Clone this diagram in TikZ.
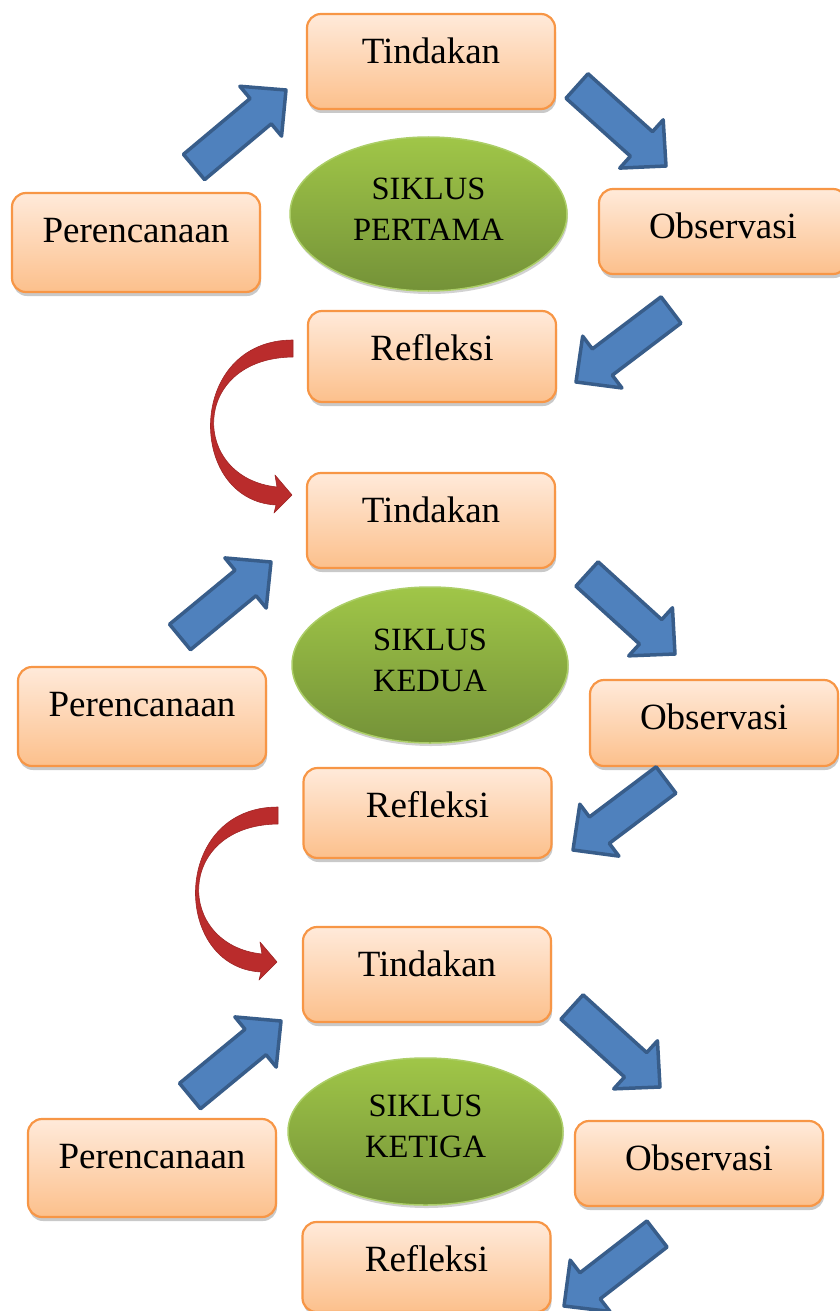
\documentclass[tikz,border=0pt]{standalone}
\usepackage{fontspec}
\setmainfont{Liberation Serif}
\usetikzlibrary{shapes.geometric,shadows,calc}

\definecolor{boxline}{RGB}{247,150,70}
\definecolor{boxtop}{RGB}{255,234,218}
\definecolor{boxbot}{RGB}{252,192,140}
\definecolor{elltop}{RGB}{160,198,72}
\definecolor{ellbot}{RGB}{116,146,56}
\definecolor{ellline}{RGB}{172,206,104}
\definecolor{arrfill}{RGB}{79,129,189}
\definecolor{arrline}{RGB}{56,93,138}
\definecolor{redarr}{RGB}{186,44,44}

\tikzset{
  stagebox/.style={draw=boxline, line width=2.2pt, rounded corners=14pt,
    top color=boxtop, bottom color=boxbot, minimum width=248pt,
    text depth=20pt, inner sep=0pt,
    font=\fontsize{37}{40}\selectfont,
    drop shadow={shadow xshift=1pt, shadow yshift=-4pt, opacity=0.3, fill=black!70}},
  cycleell/.style={ellipse, draw=ellline, line width=1.5pt,
    top color=elltop, bottom color=ellbot, inner sep=0pt, align=center,
    text depth=10pt,
    font=\fontsize{32.5}{41}\selectfont,
    drop shadow={shadow xshift=1pt, shadow yshift=-3pt, opacity=0.25, fill=black!70}},
  blockarrow/.style={fill=arrfill, draw=arrline, line width=3.5pt, line join=round},
  curvedarrow/.style={fill=redarr, draw=redarr!85!black, line width=0.6pt, line join=round},
}

% block arrow from tail coordinate #1 to tip coordinate #2, helper prefix #3
\newcommand{\blockarr}[3]{%
  \coordinate (#3h) at ($(#2)!33pt!(#1)$);
  \coordinate (#3t1) at ($(#1)!16.5pt!90:(#2)$);
  \coordinate (#3t2) at ($(#1)!16.5pt!-90:(#2)$);
  \coordinate (#3s1) at ($(#3h)!16.5pt!90:(#2)$);
  \coordinate (#3s2) at ($(#3h)!16.5pt!-90:(#2)$);
  \coordinate (#3h1) at ($(#3h)!32.5pt!90:(#2)$);
  \coordinate (#3h2) at ($(#3h)!32.5pt!-90:(#2)$);
  \draw[blockarrow] (#3t1) -- (#3s1) -- (#3h1) -- (#2) -- (#3h2) -- (#3s2) -- (#3t2) -- cycle;
}

% curved red arrow (drawn in cycle-1 coordinates, shifted by #1)
\newcommand{\curvedarr}[2]{%
  \begin{scope}[shift={#1}]
    \coordinate (#2s) at (293,348);
    \coordinate (#2e) at (292,495);
    \fill[curvedarrow] (293,340) .. controls (186,340) and (186,500) .. (276,505)
      -- (274,513) -- (#2e) -- (275,475) -- (277,487)
      .. controls (190,478) and (190,358) .. (293,357) -- cycle;
  \end{scope}
}

\begin{document}
\begin{tikzpicture}[x=1pt,y=-1pt]
\useasboundingbox (0,0) rectangle (840,1311);

% ---------- cycle 1 ----------
\node[stagebox, minimum height=95pt, text height=24pt] (t1) at (431,61.5) {Tindakan};
\node[stagebox, minimum height=99pt, text height=20pt] (p1) at (136,242.5) {Perencanaan};
\node[stagebox, minimum height=85pt, text height=33pt] (o1) at (723,231.5) {Observasi};
\node[stagebox, minimum height=91pt, text height=28pt] (r1) at (432,356.5) {Refleksi};
\node[cycleell, minimum width=277pt, minimum height=154pt] (e1) at (428.5,214) {SIKLUS\\PERTAMA};

\coordinate (a1s) at (194,167);  \coordinate (a1e) at (286,90);
\coordinate (a2s) at (577,86);   \coordinate (a2e) at (666,166);
\coordinate (a3s) at (671,310);  \coordinate (a3e) at (576,382);
\blockarr{a1s}{a1e}{x1}
\blockarr{a2s}{a2e}{x2}
\blockarr{a3s}{a3e}{x3}

\curvedarr{(0,0)}{c1}

% ---------- cycle 2 ----------
\node[stagebox, minimum height=95pt, text height=24pt] (t2) at (431,520.5) {Tindakan};
\node[stagebox, minimum height=99pt, text height=20pt] (p2) at (142,716.5) {Perencanaan};
\node[stagebox, minimum height=86pt, text height=32pt] (o2) at (714,723) {Observasi};
\node[stagebox, minimum height=90pt, text height=29pt] (r2) at (427.5,813) {Refleksi};
\node[cycleell, minimum width=276pt, minimum height=156pt] (e2) at (430,665) {SIKLUS\\KEDUA};

\coordinate (b1s) at (180,637);  \coordinate (b1e) at (271,562);
\coordinate (b2s) at (587,574);  \coordinate (b2e) at (675,654);
\coordinate (b3s) at (666,780);  \coordinate (b3e) at (573,850);
\blockarr{b1s}{b1e}{y1}
\blockarr{b2s}{b2e}{y2}
\blockarr{b3s}{b3e}{y3}

\curvedarr{(-15,467)}{c2}

% ---------- cycle 3 ----------
\node[stagebox, minimum height=95pt, text height=24pt] (t3) at (427,974.5) {Tindakan};
\node[stagebox, minimum height=98pt, text height=21pt] (p3) at (152,1168) {Perencanaan};
\node[stagebox, minimum height=85pt, text height=33pt] (o3) at (699,1163.5) {Observasi};
\node[stagebox, minimum height=90pt, text height=29pt] (r3) at (426.5,1267) {Refleksi};
\node[cycleell, minimum width=275pt, minimum height=147pt] (e3) at (425.5,1131.5) {SIKLUS\\KETIGA};

\coordinate (d1s) at (190,1096); \coordinate (d1e) at (281,1021);
\coordinate (d2s) at (572,1007); \coordinate (d2e) at (660,1087);
\coordinate (d3s) at (657,1234); \coordinate (d3e) at (564,1306);
\blockarr{d1s}{d1e}{z1}
\blockarr{d2s}{d2e}{z2}
\blockarr{d3s}{d3e}{z3}

\end{tikzpicture}
\end{document}
